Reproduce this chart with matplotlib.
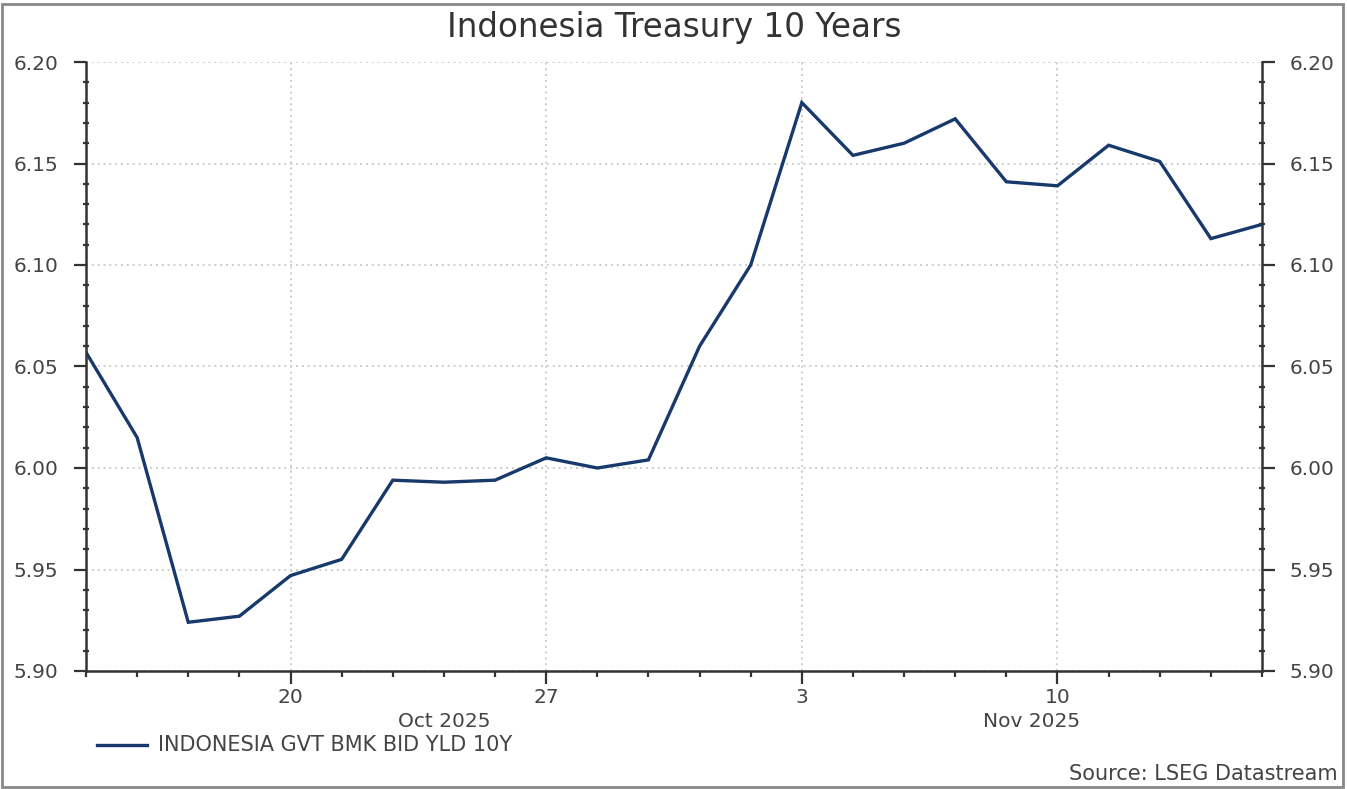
import matplotlib.pyplot as plt
import numpy as np
import pandas as pd
from matplotlib.patches import Rectangle
from matplotlib.ticker import MultipleLocator, FixedLocator

plt.rcParams['font.family'] = ['DejaVu Sans']

# business days shown on the chart
dates = ['2025-10-14', '2025-10-15', '2025-10-16', '2025-10-17',
         '2025-10-20', '2025-10-21', '2025-10-22', '2025-10-23', '2025-10-24',
         '2025-10-27', '2025-10-28', '2025-10-29', '2025-10-30', '2025-10-31',
         '2025-11-03', '2025-11-04', '2025-11-05', '2025-11-06', '2025-11-07',
         '2025-11-10', '2025-11-11', '2025-11-12', '2025-11-13', '2025-11-14']
yields = [6.057, 6.015, 5.924, 5.927,
          5.947, 5.955, 5.994, 5.993, 5.994,
          6.005, 6.000, 6.004, 6.060, 6.100,
          6.180, 6.154, 6.160, 6.172, 6.141,
          6.139, 6.159, 6.151, 6.113, 6.120]
series_name = 'INDONESIA GVT BMK BID YLD 10Y'
title = 'Indonesia Treasury 10 Years'
source = 'Source: LSEG Datastream'

d = pd.to_datetime(dates)
idx = np.arange(len(d))

fig = plt.figure(figsize=(13.47, 7.89), dpi=100)
W, H = 1347, 789
ax = fig.add_axes([86 / W, 1 - 671 / H, (1262 - 86) / W, (671 - 62) / H])

ax.plot(idx, yields, color='#17396b', linewidth=2.4, solid_joinstyle='miter')

ax.set_xlim(0, len(d) - 1)
ax.set_ylim(5.90, 6.20)

# y axis ticks, both sides
ax.yaxis.set_major_locator(MultipleLocator(0.05))
ax.yaxis.set_minor_locator(MultipleLocator(0.01))
ax.yaxis.set_major_formatter(plt.FuncFormatter(lambda v, p: f'{v:.2f}'))

# x axis: majors at Mondays, minors every business day
mondays = [i for i in idx if d[i].weekday() == 0]
ax.xaxis.set_major_locator(FixedLocator(mondays))
ax.set_xticklabels([str(d[i].day) for i in mondays])
ax.xaxis.set_minor_locator(FixedLocator(idx))

ax.tick_params(axis='both', which='major', labelsize=14.5, colors='#333333',
               labelcolor='#444444', width=1.6, length=9)
ax.tick_params(axis='y', which='both', left=True, right=True, labelleft=True, labelright=True)
ax.tick_params(axis='y', which='major', pad=11)
ax.tick_params(axis='y', which='minor', direction='inout', length=5, width=1.6, colors='#333333')
ax.tick_params(axis='x', which='minor', direction='out', length=4, width=1.6, colors='#333333')
ax.tick_params(axis='x', which='major', pad=3)

for s in ['left', 'right', 'bottom']:
    ax.spines[s].set_color('#333333')
    ax.spines[s].set_linewidth(1.8)
ax.spines['top'].set_visible(False)

ax.grid(True, which='major', color='#cccccc', linestyle=(0, (1, 2)), linewidth=1.4)

# month labels under the day ticks
months = d.to_period('M')
for m in months.unique():
    pos = idx[months == m]
    lo = pos.min()
    hi = min(pos.max() + 1, len(d) - 1)
    ax.text((lo + hi) / 2, -0.083, m.strftime('%b %Y'), transform=ax.get_xaxis_transform(),
            ha='center', va='center', fontsize=14.5, color='#444444')

fig.text(674 / W, 1 - 27 / H, title, ha='center', va='center', fontsize=23.5, color='#333333')

# legend line and label
fig.add_artist(plt.Line2D([97 / W, 147 / W], [1 - 745 / H] * 2, color='#17396b', linewidth=2.4))
fig.text(158 / W, 1 - 745 / H, series_name, ha='left', va='center', fontsize=15, color='#444444')

fig.text(1338 / W, 1 - 774 / H, source, ha='right', va='center', fontsize=15, color='#444444')

# outer frame
fig.add_artist(Rectangle((2 / W, 2 / H), (W - 6) / W, (H - 6) / H, transform=fig.transFigure,
                         fill=False, edgecolor='#888888', linewidth=2))

fig.savefig('out.png', dpi=100)
